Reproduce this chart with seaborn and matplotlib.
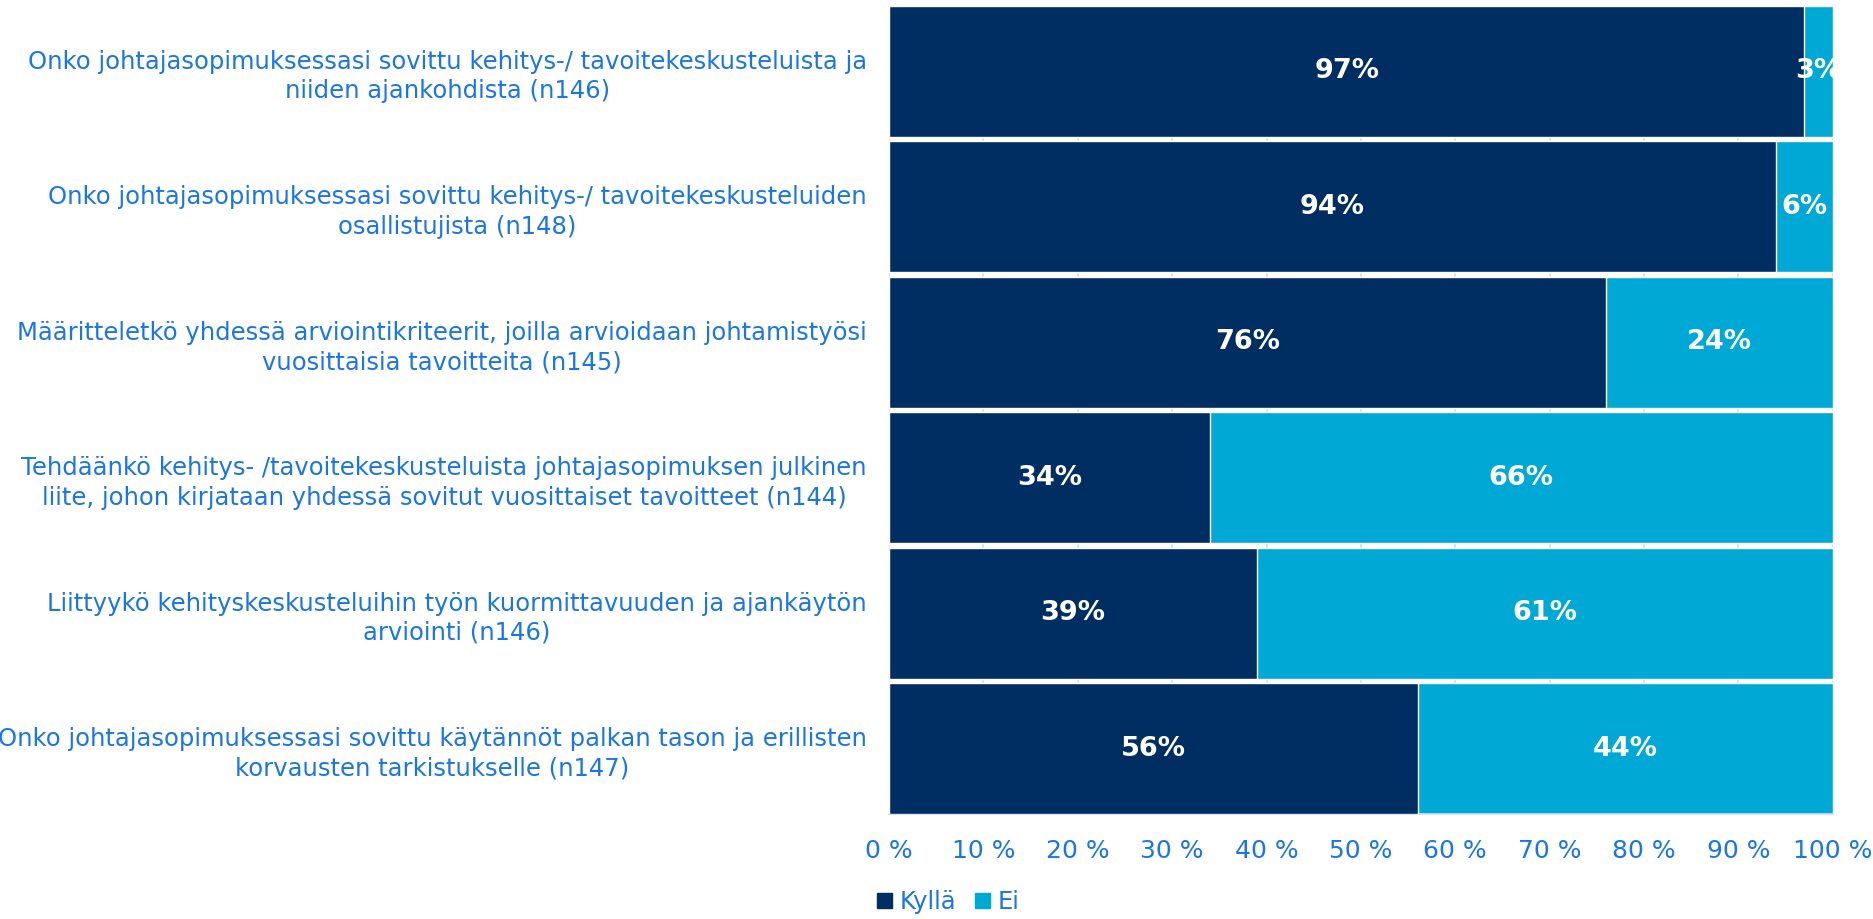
import matplotlib
matplotlib.use("Agg")
import matplotlib.pyplot as plt
import seaborn as sns
import pandas as pd
from matplotlib.patches import Patch

categories = [
    "Onko johtajasopimuksessasi sovittu kehitys-/ tavoitekeskusteluista ja\nniiden ajankohdista (n146)",
    "Onko johtajasopimuksessasi sovittu kehitys-/ tavoitekeskusteluiden\nosallistujista (n148)",
    "Määritteletkö yhdessä arviointikriteerit, joilla arvioidaan johtamistyösi\nvuosittaisia tavoitteita (n145)",
    "Tehdäänkö kehitys- /tavoitekeskusteluista johtajasopimuksen julkinen\nliite, johon kirjataan yhdessä sovitut vuosittaiset tavoitteet (n144)",
    "Liittyykö kehityskeskusteluihin työn kuormittavuuden ja ajankäytön\narviointi (n146)",
    "Onko johtajasopimuksessasi sovittu käytännöt palkan tason ja erillisten\nkorvausten tarkistukselle (n147)",
]
kylla = [97, 94, 76, 34, 39, 56]
ei = [3, 6, 24, 66, 61, 44]
series_names = ["Kyllä", "Ei"]
xticks = [0, 10, 20, 30, 40, 50, 60, 70, 80, 90, 100]

DARK = "#002D62"
LIGHT = "#00A8D6"
TXT = "#1A75E8"
GRID = "#C9DDF2"

sns.set_theme(style="white")
plt.rcParams["font.family"] = ["DejaVu Sans"]

df = pd.DataFrame({"cat": categories, "Kyllä": kylla, "Ei": ei})
df["total"] = df["Kyllä"] + df["Ei"]

fig = plt.figure(figsize=(18.74, 9.19), dpi=100)
ax = fig.add_axes([0.4744, 0.1143, 0.5036, 0.8792])

for x in xticks:
    ax.axvline(x, color=GRID, lw=1.2, zorder=0)

W = 0.965
sns.barplot(data=df, y="cat", x="total", color=LIGHT, orient="h", width=W,
            saturation=1, ax=ax, zorder=2)
sns.barplot(data=df, y="cat", x="Kyllä", color=DARK, orient="h", width=W,
            saturation=1, ax=ax, zorder=3)

for i, (k, e) in enumerate(zip(kylla, ei)):
    ax.text(k / 2, i, f"{k}%", ha="center", va="center", color="white",
            fontsize=19.5, fontweight="bold", zorder=5)
    t = ax.text(k + e / 2, i, f"{e}%", ha="center", va="center", color="white",
                fontsize=19.5, fontweight="bold", zorder=5)
    t.set_clip_on(True)

ax.set_xlim(0, 100)
ax.set_ylim(5 + W / 2, -W / 2)
ax.set_xticks(xticks)
ax.set_xticklabels([f"{x} %" for x in xticks], color=TXT, fontsize=18)
ax.tick_params(axis="x", length=6, color=GRID, pad=12)
ax.tick_params(axis="y", length=0, pad=16)
for lbl in ax.get_yticklabels():
    lbl.set_color(TXT)
    lbl.set_fontsize(17.5)
    lbl.set_multialignment("center")
    lbl.set_linespacing(1.28)
ax.set_xlabel("")
ax.set_ylabel("")
for s in ["top", "right", "left"]:
    ax.spines[s].set_visible(False)
ax.spines["bottom"].set_color(GRID)

handles = [Patch(color=DARK, label=series_names[0]), Patch(color=LIGHT, label=series_names[1])]
leg = fig.legend(handles=handles, loc="center", bbox_to_anchor=(0.506, 0.0185), ncol=2,
                 frameon=False, fontsize=17.5, handlelength=0.6, handleheight=0.6,
                 handletextpad=0.3, columnspacing=0.8, borderpad=0)
for t in leg.get_texts():
    t.set_color(TXT)

fig.savefig("out.png", dpi=100)
